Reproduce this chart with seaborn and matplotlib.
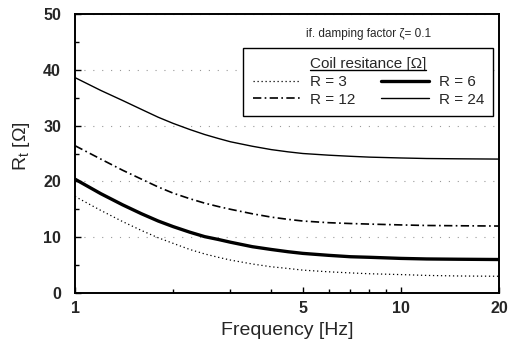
import matplotlib
matplotlib.use("Agg")
import matplotlib.pyplot as plt
from matplotlib.lines import Line2D
from matplotlib.ticker import FixedLocator, FixedFormatter, NullFormatter
import seaborn as sns
import pandas as pd

# Frequency points [Hz] and equivalent resistance R_t [Ohm] for each coil resistance
freq = [1, 1.2, 1.4, 1.6, 1.8, 2, 2.25, 2.5, 2.75, 3, 3.5, 4, 4.5, 5, 6, 7, 8,
        10, 12, 15, 20]
rt_r3 = [17.3, 14.8, 12.8, 11.2, 9.9, 8.9, 7.8, 7.0, 6.4, 5.9, 5.2, 4.7, 4.4,
         4.1, 3.8, 3.6, 3.45, 3.3, 3.15, 3.05, 3.0]
rt_r6 = [20.4, 17.8, 15.8, 14.2, 12.9, 11.9, 10.9, 10.1, 9.6, 9.1, 8.3, 7.8,
         7.4, 7.1, 6.75, 6.5, 6.4, 6.2, 6.1, 6.05, 6.0]
rt_r12 = [26.4, 24.0, 22.0, 20.4, 19.0, 17.9, 16.9, 16.1, 15.5, 15.0, 14.2,
          13.6, 13.2, 12.9, 12.6, 12.45, 12.35, 12.2, 12.1, 12.05, 12.0]
rt_r24 = [38.6, 36.3, 34.5, 32.9, 31.5, 30.4, 29.3, 28.4, 27.7, 27.1, 26.3,
          25.7, 25.3, 25.0, 24.7, 24.5, 24.35, 24.2, 24.1, 24.05, 24.0]

series_labels = ["R = 3", "R = 6", "R = 12", "R = 24"]
x_tick_vals = [1, 5, 10, 20]
x_tick_labels = ["1", "5", "10", "20"]
y_tick_vals = [0, 10, 20, 30, 40, 50]

sns.set_style("ticks")
plt.rcParams["font.family"] = ["Liberation Sans", "DejaVu Sans"]
plt.rcParams["mathtext.fontset"] = "custom"
plt.rcParams["mathtext.rm"] = "Liberation Sans"
plt.rcParams["mathtext.it"] = "Liberation Sans:italic"

fig = plt.figure(figsize=(5.15, 3.52), dpi=100)
ax = fig.add_axes([75 / 515, 1 - 293 / 352, 424 / 515, 279 / 352])

styles = {
    "R = 3": dict(linestyle=(0, (1, 2.2)), linewidth=0.9),
    "R = 6": dict(linestyle="-", linewidth=2.4),
    "R = 12": dict(linestyle=(0, (5, 2, 1, 2)), linewidth=1.2),
    "R = 24": dict(linestyle="-", linewidth=1.0),
}
values = {"R = 3": rt_r3, "R = 6": rt_r6, "R = 12": rt_r12, "R = 24": rt_r24}

lines = {}
for lab in series_labels:
    df = pd.DataFrame({"f": freq, "rt": values[lab]})
    sns.lineplot(data=df, x="f", y="rt", ax=ax, color="black", label=lab,
                 **styles[lab])
    lines[lab] = ax.get_lines()[-1]

ax.set_xscale("log")
ax.set_xlim(1, 20)
ax.set_ylim(0, 50)

ax.xaxis.set_major_locator(FixedLocator(x_tick_vals))
ax.xaxis.set_major_formatter(FixedFormatter(x_tick_labels))
ax.xaxis.set_minor_locator(FixedLocator([2, 3, 4, 6, 7, 8, 9]))
ax.xaxis.set_minor_formatter(NullFormatter())
ax.set_yticks(y_tick_vals)
ax.set_yticks([5, 15, 25, 35, 45], minor=True)

ax.tick_params(which="both", direction="in", color="black", width=1.0)
ax.tick_params(which="major", length=4.5)
ax.tick_params(which="minor", length=3)
ax.tick_params(axis="y", which="major", pad=10)
ax.tick_params(axis="x", which="major", pad=6)
for t in ax.get_xticklabels() + ax.get_yticklabels():
    t.set_fontsize(11.5)
    t.set_fontweight("bold")

for sp in ax.spines.values():
    sp.set_visible(True)
    sp.set_linewidth(1.4)
    sp.set_color("black")

ax.yaxis.grid(True, which="major", color="#999999", linestyle=(0, (1, 7)),
              linewidth=0.8)
ax.xaxis.grid(False)

ax.set_xlabel("Frequency [Hz]", fontsize=14, labelpad=4)
ax.set_ylabel(r"R$_{\mathrm{t}}$ [$\Omega$]", fontsize=14)
ax.yaxis.set_label_coords(-0.102, 0.527)

ax.text(0.693, 0.928, "if. damping factor \u03b6= 0.1", transform=ax.transAxes,
        ha="center", va="center", fontsize=8.5)

order = ["R = 3", "R = 12", "R = 6", "R = 24"]
leg = ax.legend([lines[k] for k in order], order, ncol=2,
                loc="upper right", bbox_to_anchor=(0.986, 0.878),
                borderaxespad=0, fontsize=11,
                title="Coil resitance [\u03a9]",
                title_fontsize=11, frameon=True, fancybox=False,
                edgecolor="black", framealpha=1, handlelength=3.1,
                handletextpad=0.65, columnspacing=1.7, labelspacing=0.25,
                borderpad=0.6)
leg.get_frame().set_linewidth(1.0)

# underline the legend title
fig.canvas.draw()
tb = leg.get_title().get_window_extent(fig.canvas.get_renderer())
inv = fig.transFigure.inverted()
(x0, y0), (x1, _) = inv.transform([(tb.x0, tb.y0 + 1), (tb.x1, tb.y0 + 1)])
fig.add_artist(Line2D([x0, x1], [y0, y0], transform=fig.transFigure,
                      color="black", linewidth=1.0))

fig.savefig("out.png", dpi=100)
